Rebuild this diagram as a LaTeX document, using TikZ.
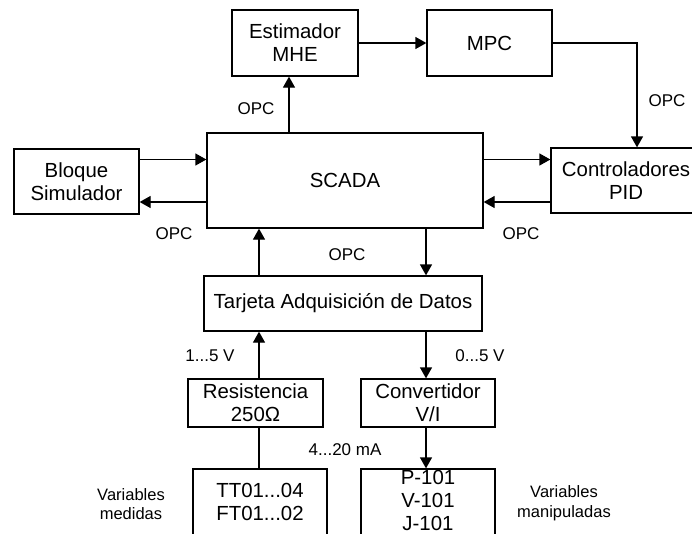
\documentclass[tikz,border=0pt]{standalone}
\usepackage{fontspec}
\setmainfont{Liberation Sans}
\usetikzlibrary{arrows.meta}
\newcommand{\boxfont}{\fontsize{20.4}{23}\selectfont}
\newcommand{\tagfont}{\fontsize{17}{20}\selectfont}
\newcommand{\notefont}{\fontsize{16.5}{19.5}\selectfont}
\begin{document}
\begin{tikzpicture}[x=1pt,y=-1pt,
  blk/.style={draw, line width=1.3pt, inner sep=0pt, align=center, font=\boxfont},
  link/.style={line width=1.3pt},
  arr/.style={link, -{Triangle[length=11pt,width=12pt]}},
  tag/.style={font=\tagfont, inner sep=0pt},
  note/.style={font=\notefont, align=center, inner sep=0pt}]
\useasboundingbox (0,0) rectangle (692,533);
\fill[white] (0,0) rectangle (692,533);
\clip (0,0) rectangle (692,533);

% blocks
\node[blk, minimum width=126pt, minimum height=66pt] (mhe) at (295,43) {Estimador\\MHE};
\node[blk, minimum width=125pt, minimum height=66pt] (mpc) at (489.5,43) {MPC};
\node[blk, minimum width=276pt, minimum height=95pt] (scada) at (345,180.5) {SCADA};
\node[blk, minimum width=125pt, minimum height=65pt] (sim) at (76.5,181.5) {Bloque\\Simulador};
\node[blk, minimum width=150pt, minimum height=65pt] (pid) at (626,180.5) {Controladores\\PID};
\node[blk, minimum width=278pt, minimum height=55pt] (daq) at (343,303.5) {Tarjeta Adquisición de Datos};
\node[blk, minimum width=135pt, minimum height=48pt] (res) at (255.5,403) {Resistencia\\250Ω};
\node[blk, minimum width=134pt, minimum height=48pt] (vi) at (428,403) {Convertidor\\V/I};
\node[blk, minimum width=134pt, minimum height=66pt] (sens) at (260,502) {TT01...04\\FT01...02};
% the rule deepens the last line so the three lines sit a little higher
\node[blk, minimum width=134pt, minimum height=66pt] (act) at (428,502)
  {P-101\\V-101\\J-101\rule[-4pt]{0pt}{4pt}};

% helper points for the connector lanes
\coordinate (up) at ([xshift=-6pt]mhe.south);
\coordinate (s1) at ([yshift=22pt]sim.east);
\coordinate (s2) at ([yshift=-20.5pt]sim.east);
\coordinate (dn) at ([xshift=83pt]daq.north);
\coordinate (upd) at ([xshift=-84pt]daq.north);

% connectors
\draw[arr] (mhe) -- (mpc);
\draw[arr] (mpc.east) -| ([xshift=11pt]pid.north);
\draw[arr] (scada.north -| up) -- (up);
\draw[arr] (s1) -- (s1 -| scada.west);
\draw[arr] (s2 -| scada.west) -- (s2);
\draw[arr] (s1 -| scada.east) -- (s1 -| pid.west);
\draw[arr] (s2 -| pid.west) -- (s2 -| scada.east);
\draw[arr] (scada.south -| dn) -- (dn);
\draw[arr] (upd) -- (scada.south -| upd);
\draw[arr] (res.north -| upd) -- (daq.south -| upd);
\draw[link] (res.south -| upd) -- (sens.north -| upd);
\draw[arr] (daq.south -| dn) -- (vi.north -| dn);
\draw[arr] (vi.south -| dn) -- (act.north -| dn);

% labels
\node[tag] (o1) at (256,109) {OPC};
\node[tag] (o2) at (667,101) {OPC};
\node[tag] (o3) at (174,234) {OPC};
\node[tag] (o4) at (521,234) {OPC};
\node[tag] (o5) at (347,255) {OPC};
\node[tag] (v1) at (210,356) {1...5 V};
\node[tag] (v2) at (480,356) {0...5 V};
\node[tag] (ma) at (345,450) {4...20 mA};
\node[note] (vm) at (131,504) {Variables\\medidas};
\node[note] (vp) at (564,503) {Variables\\manipuladas};
\end{tikzpicture}
\end{document}
